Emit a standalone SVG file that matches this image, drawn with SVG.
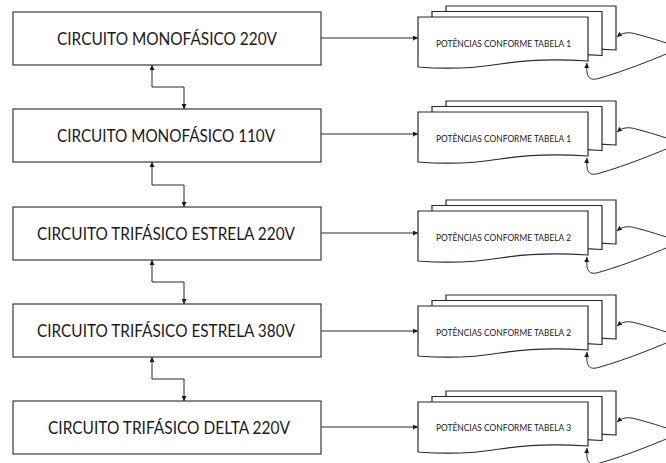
<svg xmlns="http://www.w3.org/2000/svg" width="666" height="463" viewBox="0 0 666 463">
<style>
.box{fill:#fff;stroke:#3a3a3a;stroke-width:1.2}
.doc{fill:#fff;stroke:#2a2a2a;stroke-width:1.2}
.lbl{font-family:Lato,"Open Sans","Liberation Sans",sans-serif;font-size:16.5px;fill:#1a1a1a;text-anchor:middle}
.dlbl{font-family:Lato,"Open Sans","Liberation Sans",sans-serif;font-size:9.8px;fill:#1a1a1a;text-anchor:middle}
.ln{fill:none;stroke:#2a2a2a;stroke-width:1}
</style>
<defs>
<marker id="ah" viewBox="0 0 6 6" refX="6" refY="3" markerWidth="5" markerHeight="5" markerUnits="userSpaceOnUse" orient="auto-start-reverse"><path d="M0,0 L6,3 L0,6 Z" fill="#1a1a1a"/></marker>
<path id="docshape" d="M0,0 H170 V44 C140,42 112,42 82,47 C52,52 25,52 0,50 Z"/>
</defs>
<rect width="666" height="463" fill="#fff"/>

<g id="circuito-mono-220">
<rect class="box" x="13" y="12" width="308" height="53"/>
<text class="lbl" x="167" y="45" textLength="220" lengthAdjust="spacingAndGlyphs">CIRCUITO MONOFÁSICO 220V</text>
</g>
<g id="circuito-mono-110">
<rect class="box" x="13" y="109" width="308" height="53"/>
<text class="lbl" x="166" y="142" textLength="218" lengthAdjust="spacingAndGlyphs">CIRCUITO MONOFÁSICO 110V</text>
</g>
<g id="circuito-tri-estrela-220">
<rect class="box" x="13" y="207" width="308" height="53"/>
<text class="lbl" x="166" y="240" textLength="258" lengthAdjust="spacingAndGlyphs">CIRCUITO TRIFÁSICO ESTRELA 220V</text>
</g>
<g id="circuito-tri-estrela-380">
<rect class="box" x="13" y="304" width="308" height="53"/>
<text class="lbl" x="166" y="337" textLength="258" lengthAdjust="spacingAndGlyphs">CIRCUITO TRIFÁSICO ESTRELA 380V</text>
</g>
<g id="circuito-tri-delta-220">
<rect class="box" x="13" y="401" width="308" height="53"/>
<text class="lbl" x="169" y="434" textLength="242" lengthAdjust="spacingAndGlyphs">CIRCUITO TRIFÁSICO DELTA 220V</text>
</g>

<g id="tabela-row1">
<use href="#docshape" class="doc" x="446" y="6"/>
<use href="#docshape" class="doc" x="432" y="11.5"/>
<use href="#docshape" class="doc" x="418" y="17"/>
<text class="dlbl" x="503.5" y="47" textLength="135" lengthAdjust="spacingAndGlyphs">POTÊNCIAS CONFORME TABELA 1</text>
</g>
<g id="tabela-row2" transform="translate(0,95)">
<use href="#docshape" class="doc" x="446" y="6"/>
<use href="#docshape" class="doc" x="432" y="11.5"/>
<use href="#docshape" class="doc" x="418" y="17"/>
<text class="dlbl" x="503.5" y="47" textLength="135" lengthAdjust="spacingAndGlyphs">POTÊNCIAS CONFORME TABELA 1</text>
</g>
<g id="tabela-row3" transform="translate(0,194)">
<use href="#docshape" class="doc" x="446" y="6"/>
<use href="#docshape" class="doc" x="432" y="11.5"/>
<use href="#docshape" class="doc" x="418" y="17"/>
<text class="dlbl" x="503.5" y="47" textLength="135" lengthAdjust="spacingAndGlyphs">POTÊNCIAS CONFORME TABELA 2</text>
</g>
<g id="tabela-row4" transform="translate(0,289)">
<use href="#docshape" class="doc" x="446" y="6"/>
<use href="#docshape" class="doc" x="432" y="11.5"/>
<use href="#docshape" class="doc" x="418" y="17"/>
<text class="dlbl" x="503.5" y="47" textLength="135" lengthAdjust="spacingAndGlyphs">POTÊNCIAS CONFORME TABELA 2</text>
</g>
<g id="tabela-row5" transform="translate(0,385)">
<use href="#docshape" class="doc" x="446" y="6"/>
<use href="#docshape" class="doc" x="432" y="11.5"/>
<use href="#docshape" class="doc" x="418" y="17"/>
<text class="dlbl" x="503.5" y="46" textLength="135" lengthAdjust="spacingAndGlyphs">POTÊNCIAS CONFORME TABELA 3</text>
</g>

<g id="connectors">
<path class="ln" marker-start="url(#ah)" marker-end="url(#ah)" d="M152,65 V87 H184 V109"/>
<path class="ln" marker-start="url(#ah)" marker-end="url(#ah)" d="M152,162 V185 H184 V207"/>
<path class="ln" marker-start="url(#ah)" marker-end="url(#ah)" d="M152,260 V282 H184 V304"/>
<path class="ln" marker-start="url(#ah)" marker-end="url(#ah)" d="M152,357 V379 H184 V401"/>

<path class="ln" marker-end="url(#ah)" d="M321,38 H418"/>
<path class="ln" marker-end="url(#ah)" d="M321,134 H418"/>
<path class="ln" marker-end="url(#ah)" d="M321,233 H418"/>
<path class="ln" marker-end="url(#ah)" d="M321,331 H418"/>
<path class="ln" marker-end="url(#ah)" d="M321,427 H418"/>

<g id="feedback">
<path class="ln" marker-start="url(#ah)" marker-end="url(#ah)" d="M617,37 C623,32 629,32 636,34 C655,39 670,44 680,48 C660,57 625,71 600,78 C588,82 586,76 587,63"/>
<path class="ln" marker-start="url(#ah)" marker-end="url(#ah)" transform="translate(0,95)" d="M617,37 C623,32 629,32 636,34 C655,39 670,44 680,48 C660,57 625,71 600,78 C588,82 586,76 587,63"/>
<path class="ln" marker-start="url(#ah)" marker-end="url(#ah)" transform="translate(0,194)" d="M617,37 C623,32 629,32 636,34 C655,39 670,44 680,48 C660,57 625,71 600,78 C588,82 586,76 587,63"/>
<path class="ln" marker-start="url(#ah)" marker-end="url(#ah)" transform="translate(0,289)" d="M617,37 C623,32 629,32 636,34 C655,39 670,44 680,48 C660,57 625,71 600,78 C588,82 586,76 587,63"/>
<path class="ln" marker-start="url(#ah)" marker-end="url(#ah)" transform="translate(0,385)" d="M617,37 C623,32 629,32 636,34 C655,39 670,44 680,48 C660,57 625,71 600,78 C588,82 586,76 587,63"/>
</g>
</g>
</svg>
